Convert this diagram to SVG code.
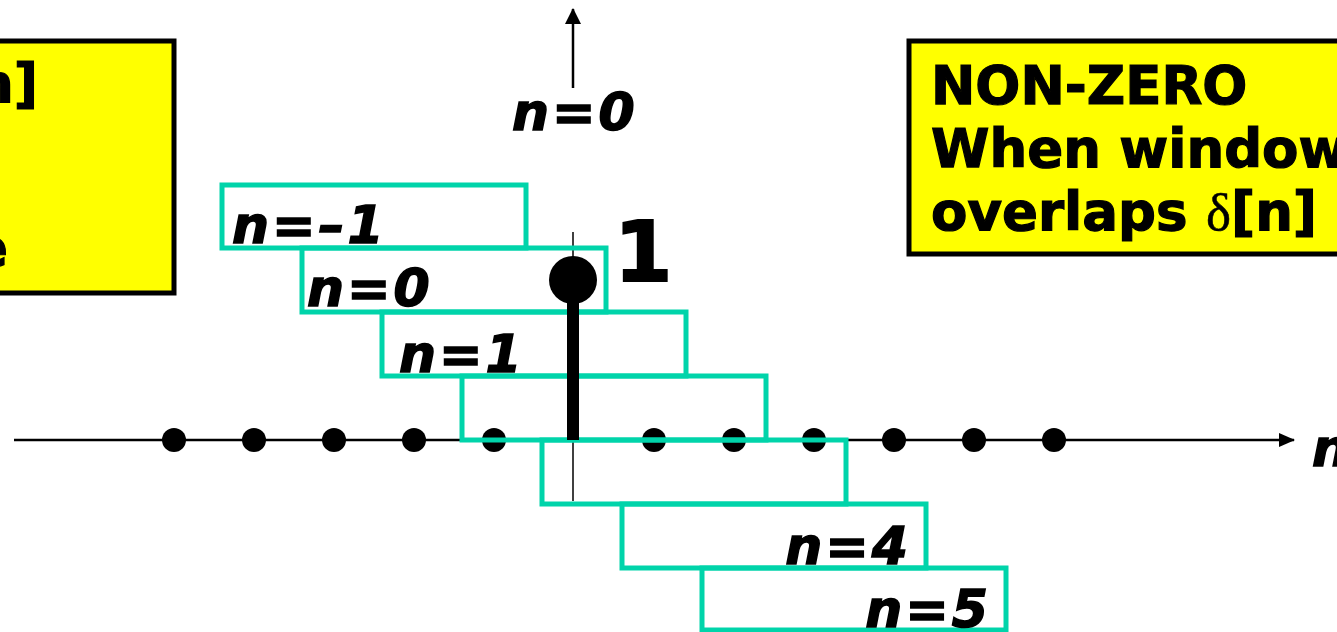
<svg xmlns="http://www.w3.org/2000/svg" width="1337" height="632" viewBox="0 0 1337 632">
<style>
.box{fill:#ffff00;stroke:#000;stroke-width:5}
.bt{font-family:"DejaVu Sans",Verdana,sans-serif;font-weight:bold;font-size:53px;fill:#000;stroke:#000;stroke-width:1.2}
.win{fill:none;stroke:#00d4aa;stroke-width:5}
.lbl{font-family:"DejaVu Sans",Verdana,sans-serif;font-weight:bold;font-style:italic;font-size:52px;fill:#000;stroke:#000;stroke-width:1.5;letter-spacing:3px}
.dot{fill:#000}
</style>
<defs>
<marker id="ah" markerWidth="16" markerHeight="16" refX="15" refY="8" orient="auto" markerUnits="userSpaceOnUse">
<path d="M0,0 L16,8 L0,16 Z" fill="#000"/>
</marker>
<marker id="ah2" markerWidth="16" markerHeight="14" refX="15" refY="7" orient="auto" markerUnits="userSpaceOnUse">
<path d="M0,0 L16,7 L0,14 Z" fill="#000"/>
</marker>
</defs>

<g id="left-note">
<rect class="box" x="-10" y="41" width="184" height="252"/>
<text class="bt" x="-24" y="102">n]</text>
<text class="bt" x="-28" y="266">e</text>
</g>

<g id="right-note">
<rect class="box" x="909" y="41" width="440" height="213"/>
<text class="bt" x="931" y="104">NON-ZERO</text>
<text class="bt" x="931" y="167">When window</text>
<text class="bt" x="931" y="230">overlaps <tspan font-family="'Liberation Serif',serif" font-weight="normal" stroke-width="0.5">δ</tspan>[n]</text>
</g>

<g id="connectors">
<line x1="14" y1="440" x2="1294" y2="440" stroke="#000" stroke-width="2.5" marker-end="url(#ah2)"/>
<line x1="573" y1="88" x2="573" y2="9" stroke="#000" stroke-width="2.5" marker-end="url(#ah)"/>
<line x1="573" y1="232" x2="573" y2="501" stroke="#000" stroke-width="1.5"/>
</g>

<g id="samples">
<circle class="dot" cx="174" cy="440" r="12"/>
<circle class="dot" cx="254" cy="440" r="12"/>
<circle class="dot" cx="334" cy="440" r="12"/>
<circle class="dot" cx="414" cy="440" r="12"/>
<circle class="dot" cx="494" cy="440" r="12"/>
<circle class="dot" cx="654" cy="440" r="12"/>
<circle class="dot" cx="734" cy="440" r="12"/>
<circle class="dot" cx="814" cy="440" r="12"/>
<circle class="dot" cx="894" cy="440" r="12"/>
<circle class="dot" cx="974" cy="440" r="12"/>
<circle class="dot" cx="1054" cy="440" r="12"/>
</g>

<g id="windows">
<rect class="win" x="222" y="185" width="304" height="63"/>
<rect class="win" x="302" y="248" width="304" height="64"/>
<rect class="win" x="382" y="312" width="304" height="64"/>
<rect class="win" x="462" y="376" width="304" height="64"/>
<rect class="win" x="542" y="440" width="304" height="64"/>
<rect class="win" x="622" y="504" width="304" height="64"/>
<rect class="win" x="702" y="568" width="304" height="62"/>
</g>

<g id="impulse">
<rect x="567" y="280" width="12" height="160" fill="#000"/>
<circle cx="573" cy="280" r="24" fill="#000"/>
<text x="614" y="281" font-family="'DejaVu Sans',Verdana,sans-serif" font-weight="bold" font-size="84" fill="#000" stroke="#000" stroke-width="2">1</text>
</g>

<g id="labels">
<text class="lbl" x="512" y="130" font-size="46" letter-spacing="1">n=0</text>
<text class="lbl" x="232" y="243">n=–1</text>
<text class="lbl" x="307" y="306">n=0</text>
<text class="lbl" x="399" y="372">n=1</text>
<text class="lbl" x="911" y="564" text-anchor="end">n=4</text>
<text class="lbl" x="991" y="627" text-anchor="end">n=5</text>
<text class="lbl" x="1312" y="466">n</text>
</g>
</svg>
